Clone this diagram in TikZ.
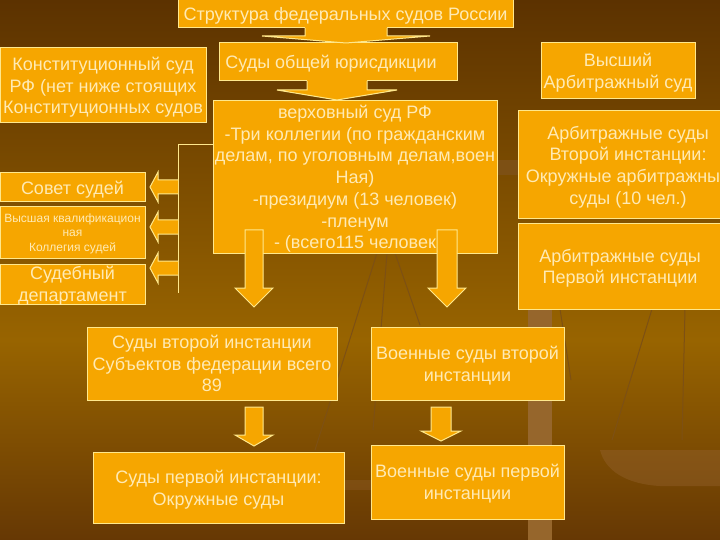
\documentclass[tikz,border=0pt]{standalone}
\usepackage{fontspec}
\setmainfont{Liberation Sans}
\usetikzlibrary{calc}
\definecolor{BoxClr}{RGB}{246,166,0}
\definecolor{EdgeClr}{RGB}{255,232,140}
\definecolor{TextClr}{RGB}{255,234,180}
\definecolor{BgTopClr}{RGB}{92,50,0}
\definecolor{BgMidClr}{RGB}{152,100,0}
\definecolor{BgLowClr}{RGB}{102,56,4}
\definecolor{ScaleClr}{RGB}{125,80,20}
\definecolor{PillarClr}{RGB}{150,102,44}
\definecolor{PanClr}{RGB}{150,100,50}
\tikzset{
  courtbox/.style={draw=EdgeClr,fill=BoxClr,line width=1pt,text=TextClr,align=center,inner sep=0pt,text depth=0pt,font=\fontsize{18}{21.7}\selectfont},
  smallbox/.style={courtbox,font=\fontsize{12}{14.2}\selectfont},
  blockarrow/.style={draw=EdgeClr,fill=BoxClr,line width=1pt,line join=miter},
  busline/.style={draw=EdgeClr,line width=1pt}
}
\newcommand{\boxat}[7][courtbox]{%
  \node[#1,minimum width=#5-#3,minimum height=#6-#4] (#2) at ({(#3+#5)/2},{(#4+#6)/2}) {#7};}

\begin{document}
\begin{tikzpicture}[x=1pt,y=-1pt]
\clip (0,0) rectangle (720,540);
\shade[top color=BgTopClr,bottom color=BgMidClr] (0,0) rectangle (720,340);
\shade[top color=BgMidClr,bottom color=BgLowClr] (0,340) rectangle (720,540);

% scales behind the boxes
\fill[PillarClr] (528,300) rectangle (552,540);
\fill[ScaleClr] (497,160) rectangle (520,175);
\draw[ScaleClr,line width=1pt] (377,253) -- (315,450) (387,253) -- (373,430) (395,253) -- (420,325);
\draw[ScaleClr,line width=1pt] (560,309) -- (571,380) (652,309) -- (612,440) (685,309) -- (682,440);
\fill[PanClr,opacity=.4] (600,450) -- (720,450) -- (720,486) -- (660,486) .. controls (625,484) and (605,470) .. (600,450);
\fill[PanClr,opacity=.3] (315,480) rectangle (371,490);

\boxat{title}{178}{0}{513}{28}{Структура федеральных судов России}
\boxat{general}{219}{43}{457}{81}{Суды общей юрисдикции\hspace*{14pt}}
\boxat{constit}{0}{48}{206}{123}{Конституционный суд\\РФ (нет ниже стоящих\\Конституционных судов}
\boxat{supreme}{213}{101}{497}{253}{верховный суд РФ\\-Три коллегии (по гражданским\\делам, по уголовным делам,воен\\Ная)\\-президиум (13 человек)\\-пленум\\- (всего115 человек}
\boxat{council}{0}{173}{145}{202}{Совет судей}
\boxat[smallbox]{board}{0}{207}{145}{258}{Высшая квалификацион\\ная\\Коллегия судей}
\boxat{dept}{0}{264}{145}{304}{Судебный\\департамент}
\boxat{arbhigh}{541}{43}{695}{99}{Высший\\Арбитражный суд}
\boxat{arbsecond}{518}{111}{738}{219}{Арбитражные суды\\Второй инстанции:\\Окружные арбитражные\\суды (10 чел.)}
\boxat{arbfirst}{518}{224}{722}{309}{Арбитражные суды\\Первой инстанции}
\boxat{second}{87}{327}{337}{400}{Суды второй инстанции\\Субъектов федерации всего\\89}
\boxat{milsecond}{371}{327}{564}{400}{Военные суды второй\\инстанции}
\boxat{first}{93}{452}{344}{523}{Суды первой инстанции:\\Окружные суды}
\boxat{milfirst}{371}{445}{564}{519}{Военные суды первой\\инстанции}

% wide arrows run out of the box above them
\foreach \ax/\ashaft/\ahead/\atop/\abase/\atip in {346/41/84/28/36/43,337/30/60/81/90/100}{
  \fill[BoxClr] ({\ax-\ashaft},{\atop-1}) rectangle ({\ax+\ashaft},\abase);
  \draw[blockarrow] ({\ax+\ashaft},\atop) -- ({\ax+\ashaft},\abase) -- ({\ax+\ahead},\abase)
    -- (\ax,\atip) -- ({\ax-\ahead},\abase) -- ({\ax-\ashaft},\abase) -- ({\ax-\ashaft},\atop);
}

% down arrows: centre, shaft half, head half, top, head base, tip
\foreach \ax/\ashaft/\ahead/\atop/\abase/\atip in {254/9/19/230/288/307,447/10/19/230/288/307,254/9/19/407/435/446,441/10/20/407/431/441}
  \draw[blockarrow] ({\ax-\ashaft},\atop) -- ({\ax+\ashaft},\atop) -- ({\ax+\ashaft},\abase) -- ({\ax+\ahead},\abase)
    -- (\ax,\atip) -- ({\ax-\ahead},\abase) -- ({\ax-\ashaft},\abase) -- cycle;

% bus from the supreme court
\coordinate (busjoin) at (213,145);
\coordinate (bustop) at (178,145);
\coordinate (busend) at (178,293);
\draw[busline] (busjoin) -- (bustop) -- (busend);

\foreach \ay in {187,227,268}
  \draw[blockarrow] (178,{\ay-7}) -- (158,{\ay-7}) -- (158,{\ay-15}) -- (150,\ay) -- (158,{\ay+15}) -- (158,{\ay+7}) -- (178,{\ay+7});
\end{tikzpicture}
\end{document}
